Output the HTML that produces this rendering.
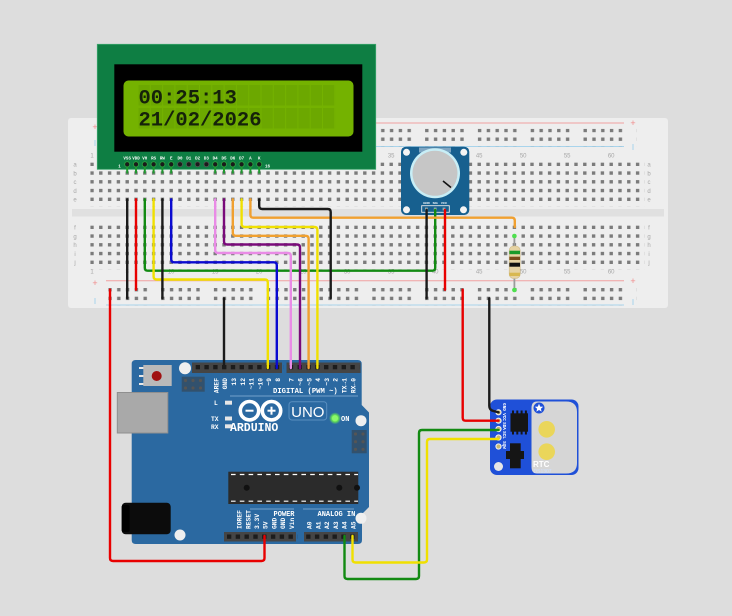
<!DOCTYPE html>
<html><head><meta charset="utf-8"><style>
html,body{margin:0;padding:0;background:#dddddd;width:732px;height:616px;overflow:hidden}
svg{display:block}
</style></head><body>
<svg width="732" height="616" viewBox="0 0 732 616" xmlns="http://www.w3.org/2000/svg" font-family="Liberation Sans, sans-serif">
<defs>
<pattern id="h1" x="90.3" y="162.6" width="8.8" height="8.75" patternUnits="userSpaceOnUse"><rect width="3.4" height="3.4" fill="#7b7b7b"/></pattern>
<pattern id="h2" x="90.3" y="225.6" width="8.8" height="8.75" patternUnits="userSpaceOnUse"><rect width="3.4" height="3.4" fill="#7b7b7b"/></pattern>
<pattern id="r1" x="108.3" y="128.8" width="52.8" height="8.7" patternUnits="userSpaceOnUse">
<rect x="0" width="3.4" height="3.4" fill="#7b7b7b"/><rect x="8.8" width="3.4" height="3.4" fill="#7b7b7b"/><rect x="17.6" width="3.4" height="3.4" fill="#7b7b7b"/><rect x="26.4" width="3.4" height="3.4" fill="#7b7b7b"/><rect x="35.2" width="3.4" height="3.4" fill="#7b7b7b"/></pattern>
<pattern id="r2" x="108.3" y="288" width="52.8" height="8.7" patternUnits="userSpaceOnUse">
<rect x="0" width="3.4" height="3.4" fill="#7b7b7b"/><rect x="8.8" width="3.4" height="3.4" fill="#7b7b7b"/><rect x="17.6" width="3.4" height="3.4" fill="#7b7b7b"/><rect x="26.4" width="3.4" height="3.4" fill="#7b7b7b"/><rect x="35.2" width="3.4" height="3.4" fill="#7b7b7b"/></pattern>
<pattern id="cell" x="138.5" y="85" width="12.3" height="23" patternUnits="userSpaceOnUse"><rect width="11.3" height="20.5" fill="#6ca800"/></pattern>
<pattern id="hp1" x="195.6" y="365" width="8.8" height="5" patternUnits="userSpaceOnUse"><rect width="4.4" height="4.4" fill="#1c1c1c"/></pattern>
<pattern id="hp2" x="288.8" y="365" width="8.8" height="5" patternUnits="userSpaceOnUse"><rect width="4.4" height="4.4" fill="#1c1c1c"/></pattern>
<pattern id="hp3" x="226.9" y="534.5" width="8.8" height="5" patternUnits="userSpaceOnUse"><rect width="4.4" height="4.4" fill="#1c1c1c"/></pattern>
<pattern id="hp4" x="306.1" y="534.5" width="8.8" height="5" patternUnits="userSpaceOnUse"><rect width="4.4" height="4.4" fill="#1c1c1c"/></pattern>
<radialGradient id="glow"><stop offset="0" stop-color="#c8ffb0"/><stop offset="0.5" stop-color="#6cf04c"/><stop offset="1" stop-color="#6cf04c" stop-opacity="0"/></radialGradient>
</defs>

<!-- Breadboard -->
<rect x="68" y="118" width="600" height="190" rx="3" fill="#eeeeee"/>
<rect x="72" y="209" width="592" height="7.5" fill="#e0e0e0"/>
<line x1="106" y1="123" x2="624" y2="123" stroke="#f0a0a0" stroke-width="1"/>
<line x1="106" y1="146.5" x2="624" y2="146.5" stroke="#a8d4ec" stroke-width="1"/>
<line x1="106" y1="280.7" x2="624" y2="280.7" stroke="#f0a0a0" stroke-width="1"/>
<line x1="106" y1="305" x2="624" y2="305" stroke="#a8d4ec" stroke-width="1"/>
<g font-size="9" fill="#f08a8a" text-anchor="middle"><text x="95" y="130">+</text><text x="633" y="126">+</text><text x="95" y="286">+</text><text x="633" y="284">+</text></g>
<g stroke="#a8d4ec" stroke-width="1"><line x1="95" y1="140" x2="95" y2="146"/><line x1="633" y1="144" x2="633" y2="150"/><line x1="95" y1="298" x2="95" y2="304"/><line x1="633" y1="299" x2="633" y2="305"/></g>
<rect x="90.3" y="162.6" width="554.4" height="43.75" fill="url(#h1)"/>
<rect x="90.3" y="225.6" width="554.4" height="43.75" fill="url(#h2)"/>
<rect x="108.3" y="128.8" width="528" height="17.4" fill="url(#r1)"/>
<rect x="108.3" y="288" width="528" height="17.4" fill="url(#r2)"/>
<g font-size="6" fill="#a6a6a6" text-anchor="middle">
<text x="92" y="157.5">1</text><text x="391.2" y="157.5">35</text><text x="479.2" y="157.5">45</text><text x="523.2" y="157.5">50</text><text x="567.2" y="157.5">55</text><text x="611.2" y="157.5">60</text>
<text x="92" y="273.5">1</text><text x="127.2" y="273.5">5</text><text x="171.2" y="273.5">10</text><text x="215.2" y="273.5">15</text><text x="259.2" y="273.5">20</text><text x="303.2" y="273.5">25</text><text x="347.2" y="273.5">30</text><text x="391.2" y="273.5">35</text><text x="435.2" y="273.5">40</text><text x="479.2" y="273.5">45</text><text x="523.2" y="273.5">50</text><text x="567.2" y="273.5">55</text><text x="611.2" y="273.5">60</text>
<text x="75" y="166.5">a</text><text x="75" y="175.3">b</text><text x="75" y="184">c</text><text x="75" y="192.8">d</text><text x="75" y="201.5">e</text>
<text x="75" y="229.5">f</text><text x="75" y="238.3">g</text><text x="75" y="247">h</text><text x="75" y="255.8">i</text><text x="75" y="264.5">j</text>
<text x="649" y="166.5">a</text><text x="649" y="175.3">b</text><text x="649" y="184">c</text><text x="649" y="192.8">d</text><text x="649" y="201.5">e</text>
<text x="649" y="229.5">f</text><text x="649" y="238.3">g</text><text x="649" y="247">h</text><text x="649" y="255.8">i</text><text x="649" y="264.5">j</text>
</g>

<!-- LCD -->
<rect x="97.3" y="44.3" width="278.4" height="125" fill="#0e7e43" stroke="#3aa56b" stroke-width="0.8"/>
<rect x="114.3" y="64.3" width="248" height="87.4" fill="#000"/>
<rect x="123.5" y="80.5" width="230" height="56" rx="5" fill="#74b200"/>
<rect x="138.5" y="85" width="196.8" height="44.5" fill="url(#cell)"/>
<g font-family="Liberation Mono, monospace" font-size="20.5" font-weight="bold" fill="#15220a">
<text x="138.5" y="103.5">00:25:13</text>
<text x="138.5" y="125.5">21/02/2026</text>
</g>
<g font-family="Liberation Mono, monospace" font-weight="bold" font-size="4.2" fill="#fff" text-anchor="middle">
<text x="127.2" y="159.5">VSS</text><text x="136" y="159.5">VDD</text><text x="144.8" y="159.5">V0</text><text x="153.6" y="159.5">RS</text><text x="162.4" y="159.5">RW</text><text x="171.2" y="159.5">E</text><text x="180" y="159.5">D0</text><text x="188.8" y="159.5">D1</text><text x="197.6" y="159.5">D2</text><text x="206.4" y="159.5">D3</text><text x="215.2" y="159.5">D4</text><text x="224" y="159.5">D5</text><text x="232.8" y="159.5">D6</text><text x="241.6" y="159.5">D7</text><text x="250.4" y="159.5">A</text><text x="259.2" y="159.5">K</text>
<text x="119.5" y="167.5">1</text><text x="267.5" y="167.5">16</text>
</g>
<g fill="#1f9a2f">
<rect x="126.2" y="164" width="2" height="9.5"/><rect x="135" y="164" width="2" height="9.5"/><rect x="143.8" y="164" width="2" height="9.5"/><rect x="152.6" y="164" width="2" height="9.5"/><rect x="161.4" y="164" width="2" height="9.5"/><rect x="170.2" y="164" width="2" height="9.5"/>
<rect x="214.2" y="164" width="2" height="9.5"/><rect x="223" y="164" width="2" height="9.5"/><rect x="231.8" y="164" width="2" height="9.5"/><rect x="240.6" y="164" width="2" height="9.5"/><rect x="249.4" y="164" width="2" height="9.5"/><rect x="258.2" y="164" width="2" height="9.5"/>
</g>
<g fill="#1a1a1a" stroke="#2aa040" stroke-width="0.9">
<circle cx="127.2" cy="164.3" r="2.6"/><circle cx="136" cy="164.3" r="2.6"/><circle cx="144.8" cy="164.3" r="2.6"/><circle cx="153.6" cy="164.3" r="2.6"/><circle cx="162.4" cy="164.3" r="2.6"/><circle cx="171.2" cy="164.3" r="2.6"/>
<circle cx="215.2" cy="164.3" r="2.6"/><circle cx="224" cy="164.3" r="2.6"/><circle cx="232.8" cy="164.3" r="2.6"/><circle cx="241.6" cy="164.3" r="2.6"/><circle cx="250.4" cy="164.3" r="2.6"/><circle cx="259.2" cy="164.3" r="2.6"/>
</g>
<g fill="#1a1a1a" stroke="#555" stroke-width="0.8">
<circle cx="180" cy="164.3" r="2.4"/><circle cx="188.8" cy="164.3" r="2.4"/><circle cx="197.6" cy="164.3" r="2.4"/><circle cx="206.4" cy="164.3" r="2.4"/>
</g>

<!-- Potentiometer module -->
<rect x="401" y="146.7" width="68.3" height="68.3" rx="5" fill="#17608f"/>
<rect x="419" y="147.5" width="32" height="5" fill="#7fa6c2"/>
<circle cx="435" cy="173.3" r="25" fill="#c8eef6"/>
<circle cx="435" cy="173.3" r="22.5" fill="#c6c6c6"/>
<line x1="443" y1="181" x2="451" y2="187.5" stroke="#111" stroke-width="1.6"/>
<g fill="#f4f4f4"><circle cx="406.5" cy="152.3" r="3.5"/><circle cx="463.8" cy="152.3" r="3.5"/><circle cx="406.5" cy="209.8" r="3.5"/><circle cx="463.5" cy="209.8" r="3.5"/></g>
<rect x="421.7" y="205.7" width="27.6" height="6.6" fill="none" stroke="#e8e8e8" stroke-width="0.9"/>
<g fill="#9aa"><rect x="425" y="207.6" width="2.8" height="2.8"/><rect x="433.8" y="207.6" width="2.8" height="2.8"/><rect x="442.6" y="207.6" width="2.8" height="2.8"/></g>
<g font-size="3" fill="#fff" text-anchor="middle" font-weight="bold"><text x="426.4" y="204">GND</text><text x="435.2" y="204">SIG</text><text x="444" y="204">VCC</text></g>

<!-- Resistor -->
<line x1="514.4" y1="236" x2="514.4" y2="290" stroke="#9a9a9a" stroke-width="1.8"/>
<rect x="509.2" y="246" width="11" height="32.5" rx="4.5" fill="#e6d3a3" stroke="#cdb886" stroke-width="0.6"/>
<rect x="509.4" y="250.7" width="10.6" height="3.5" fill="#1a9a2a"/>
<rect x="509.4" y="256.7" width="10.6" height="3.3" fill="#7a4a1a"/>
<rect x="509.4" y="262.7" width="10.6" height="4" fill="#111"/>
<rect x="509.4" y="272.7" width="10.6" height="3.3" fill="#d8b850"/>
<circle cx="514.4" cy="236" r="2.3" fill="#4ee04e"/><circle cx="514.4" cy="290" r="2.3" fill="#4ee04e"/>

<!-- Arduino -->
<path d="M135.7,360 H357.7 Q361.7,360 361.7,364 V405 L369,412.5 V507 L362,514 V540 Q362,544 358,544 H135.7 Q131.7,544 131.7,540 V364 Q131.7,360 135.7,360 Z" fill="#2b69a1"/>
<rect x="117.3" y="392.5" width="50.5" height="40.5" fill="#a9a9a9" stroke="#8f8f8f" stroke-width="1"/>
<rect x="121.7" y="502.7" width="49" height="31.6" rx="4" fill="#0c0c0c"/>
<rect x="121.7" y="505" width="8" height="27" rx="2" fill="#000"/>
<g fill="#e8e8e8"><rect x="139" y="367" width="5" height="2"/><rect x="139" y="375" width="5" height="2"/><rect x="139" y="383" width="5" height="2"/></g>
<rect x="143.3" y="365" width="28.4" height="21" fill="#b9b9b9"/>
<circle cx="156.7" cy="376" r="5" fill="#a01010"/>
<circle cx="185" cy="368.3" r="6" fill="#efefef"/>
<circle cx="180" cy="535" r="5.5" fill="#efefef"/>
<circle cx="361" cy="420.7" r="5.5" fill="#efefef"/>
<circle cx="361" cy="518.3" r="5.5" fill="#efefef"/>
<rect x="181.7" y="376.7" width="23" height="15" fill="#3a3a3a" opacity="0.5"/>
<g fill="#555"><circle cx="185.5" cy="380.5" r="1.6"/><circle cx="193" cy="380.5" r="1.6"/><circle cx="200.5" cy="380.5" r="1.6"/><circle cx="185.5" cy="388" r="1.6"/><circle cx="193" cy="388" r="1.6"/><circle cx="200.5" cy="388" r="1.6"/></g>
<rect x="351.7" y="430" width="15" height="23.3" fill="#3a3a3a" opacity="0.5"/>
<g fill="#555"><circle cx="355.5" cy="434" r="1.6"/><circle cx="363" cy="434" r="1.6"/><circle cx="355.5" cy="441.7" r="1.6"/><circle cx="363" cy="441.7" r="1.6"/><circle cx="355.5" cy="449.3" r="1.6"/><circle cx="363" cy="449.3" r="1.6"/></g>
<rect x="192" y="362.5" width="90" height="10.5" fill="#454545"/>
<rect x="195.6" y="365" width="88" height="4.4" fill="url(#hp1)"/>
<rect x="286.5" y="362.5" width="74" height="10.5" fill="#454545"/>
<rect x="288.8" y="365" width="70.4" height="4.4" fill="url(#hp2)"/>
<rect x="224" y="532" width="72" height="9.5" fill="#454545"/>
<rect x="226.9" y="534.5" width="70.4" height="4.4" fill="url(#hp3)"/>
<rect x="304" y="532" width="54" height="9.5" fill="#454545"/>
<rect x="306.1" y="534.5" width="52.8" height="4.4" fill="url(#hp4)"/>
<g font-family="Liberation Mono, monospace" font-weight="bold" font-size="6.3" fill="#fff">
<text transform="translate(216.2,378) rotate(-90)" text-anchor="end" dy="2.2">AREF</text>
<text transform="translate(225,378) rotate(-90)" text-anchor="end" dy="2.2">GND</text>
<text transform="translate(233.8,378) rotate(-90)" text-anchor="end" dy="2.2">13</text>
<text transform="translate(242.6,378) rotate(-90)" text-anchor="end" dy="2.2">12</text>
<text transform="translate(251.4,378) rotate(-90)" text-anchor="end" dy="2.2">~11</text>
<text transform="translate(260.2,378) rotate(-90)" text-anchor="end" dy="2.2">~10</text>
<text transform="translate(269,378) rotate(-90)" text-anchor="end" dy="2.2">~9</text>
<text transform="translate(277.8,378) rotate(-90)" text-anchor="end" dy="2.2">8</text>
<text transform="translate(291.5,378) rotate(-90)" text-anchor="end" dy="2.2">7</text>
<text transform="translate(300.3,378) rotate(-90)" text-anchor="end" dy="2.2">~6</text>
<text transform="translate(309.1,378) rotate(-90)" text-anchor="end" dy="2.2">~5</text>
<text transform="translate(317.9,378) rotate(-90)" text-anchor="end" dy="2.2">4</text>
<text transform="translate(326.7,378) rotate(-90)" text-anchor="end" dy="2.2">~3</text>
<text transform="translate(335.5,378) rotate(-90)" text-anchor="end" dy="2.2">2</text>
<text transform="translate(344.3,378) rotate(-90)" text-anchor="end" dy="2.2">TX→1</text>
<text transform="translate(353.1,378) rotate(-90)" text-anchor="end" dy="2.2">RX←0</text>
<text x="273" y="393" font-size="7.2">DIGITAL (PWM ~)</text>
<text transform="translate(239.3,529) rotate(-90)" dy="2.2">IOREF</text>
<text transform="translate(248.3,529) rotate(-90)" dy="2.2">RESET</text>
<text transform="translate(256.8,529) rotate(-90)" dy="2.2">3.3V</text>
<text transform="translate(265.3,529) rotate(-90)" dy="2.2">5V</text>
<text transform="translate(274.1,529) rotate(-90)" dy="2.2">GND</text>
<text transform="translate(282.9,529) rotate(-90)" dy="2.2">GND</text>
<text transform="translate(291.7,529) rotate(-90)" dy="2.2">Vin</text>
<text transform="translate(309.3,529) rotate(-90)" dy="2.2">A0</text>
<text transform="translate(318.1,529) rotate(-90)" dy="2.2">A1</text>
<text transform="translate(326.9,529) rotate(-90)" dy="2.2">A2</text>
<text transform="translate(335.7,529) rotate(-90)" dy="2.2">A3</text>
<text transform="translate(344.5,529) rotate(-90)" dy="2.2">A4</text>
<text transform="translate(353.3,529) rotate(-90)" dy="2.2">A5</text>
<text x="273.5" y="516" font-size="7">POWER</text>
<text x="317.5" y="516" font-size="7">ANALOG IN</text>
<text x="214" y="405">L</text>
<text x="211" y="421">TX</text>
<text x="211" y="429">RX</text>
<text x="341" y="421" font-size="7">ON</text>
</g>
<g stroke="#8cb4d8" stroke-width="0.7"><line x1="230" y1="396" x2="358" y2="396"/><line x1="250" y1="509" x2="294" y2="509"/><line x1="303" y1="509" x2="354" y2="509"/></g>
<g fill="#e6e6e6"><rect x="225" y="400.7" width="7" height="4"/><rect x="225" y="416.5" width="7" height="4"/><rect x="225" y="424.3" width="7" height="4"/></g>
<circle cx="335" cy="418.3" r="6" fill="url(#glow)"/>
<circle cx="335" cy="418.3" r="3" fill="#8cf86a"/>
<g fill="none" stroke="#fff" stroke-width="3.6"><circle cx="249.5" cy="410.7" r="9.2"/><circle cx="271.5" cy="410.7" r="9.2"/></g>
<g stroke="#fff" stroke-width="2"><line x1="245.5" y1="410.7" x2="253.5" y2="410.7"/><line x1="267.5" y1="410.7" x2="275.5" y2="410.7"/><line x1="271.5" y1="406.7" x2="271.5" y2="414.7"/></g>
<text x="230" y="431" font-family="Liberation Mono, monospace" font-weight="bold" font-size="11.5" fill="#fff">ARDUINO</text>
<rect x="289" y="401.7" width="37.7" height="18.3" rx="3" fill="none" stroke="#5a8fc0" stroke-width="1"/>
<text x="307.8" y="417" font-size="15" fill="#fff" text-anchor="middle">UNO</text>
<rect x="228.3" y="471.7" width="130" height="32.3" fill="#2b2b2b"/>
<line x1="231" y1="474.5" x2="358" y2="474.5" stroke="#fff" stroke-width="1.2" stroke-dasharray="4.6 4.2"/>
<line x1="231" y1="501.2" x2="358" y2="501.2" stroke="#fff" stroke-width="1.2" stroke-dasharray="4.6 4.2"/>
<circle cx="246.7" cy="487.7" r="3" fill="#111"/><circle cx="339.3" cy="487.7" r="3" fill="#111"/><circle cx="357" cy="487.7" r="3" fill="#111"/>

<!-- RTC -->
<rect x="490" y="399.5" width="88.5" height="75.5" rx="7" fill="#1f50d8"/>
<path d="M537,401.5 H566 Q577,401.5 577,412 V463 Q577,473.5 566,473.5 H537 Q531.5,473.5 531.5,467 V408 Q531.5,401.5 537,401.5 Z" fill="#d6d6d6"/>
<circle cx="546.7" cy="429.3" r="8.3" fill="#ead65a"/>
<circle cx="546.7" cy="451.7" r="8.3" fill="#ead65a"/>
<circle cx="539" cy="408" r="5.5" fill="#1f50d8"/>
<polygon points="539,403.8 540.2,406.6 543.2,406.8 540.9,408.7 541.6,411.6 539,410 536.4,411.6 537.1,408.7 534.8,406.8 537.8,406.6" fill="#fff"/>
<rect x="510.5" y="413.3" width="17.5" height="18.4" fill="#151515"/>
<g fill="#151515"><rect x="512" y="410.5" width="2" height="3"/><rect x="516.3" y="410.5" width="2" height="3"/><rect x="520.6" y="410.5" width="2" height="3"/><rect x="524.9" y="410.5" width="2" height="3"/><rect x="512" y="431.5" width="2" height="3"/><rect x="516.3" y="431.5" width="2" height="3"/><rect x="520.6" y="431.5" width="2" height="3"/><rect x="524.9" y="431.5" width="2" height="3"/></g>
<rect x="510" y="443.3" width="10.7" height="25" fill="#151515"/>
<rect x="506" y="451" width="18" height="8" fill="#151515"/>
<circle cx="498.5" cy="466.5" r="4.5" fill="#e6e6e6"/>
<g fill="#c9b872" stroke="#f4f4f4" stroke-width="1"><circle cx="498.5" cy="412.3" r="2.6"/><circle cx="498.5" cy="420.7" r="2.6"/><circle cx="498.5" cy="429" r="2.6"/><circle cx="498.5" cy="437.5" r="2.6"/><circle cx="498.5" cy="446.5" r="2.6"/></g>
<g font-family="Liberation Mono, monospace" font-weight="bold" font-size="4.3" fill="#fff" text-anchor="middle">
<text transform="translate(503,407) rotate(90)">GND</text>
<text transform="translate(503,417) rotate(90)">VCC</text>
<text transform="translate(503,426) rotate(90)">SDA</text>
<text transform="translate(503,435) rotate(90)">SCL</text>
<text transform="translate(503,445) rotate(90)">SQW</text>
</g>
<text x="533" y="467" font-size="8" font-weight="bold" fill="#fff">RTC</text>
<text x="533.5" y="473" font-size="5" fill="#cfe0ff">DS1307</text>

<!-- Wires -->
<g fill="none" stroke-width="2.4" stroke-linejoin="round" stroke-linecap="round">
<path d="M127.2,199.3 V298.3" stroke="#1b1b1b"/>
<path d="M136,199.3 V289.7" stroke="#e80000"/>
<path d="M144.8,199.3 V267.7 Q144.8,270.7 147.8,270.7 H432.2 Q435.2,270.7 435.2,267.7 V210" stroke="#128a12"/>
<path d="M153.6,199.3 V276.5 Q153.6,279.5 156.6,279.5 H264.8 Q267.8,279.5 267.8,282.5 V368" stroke="#f0e000"/>
<path d="M162.4,199.3 V298.3" stroke="#1b1b1b"/>
<path d="M171.2,199.3 V259.3 Q171.2,262.3 174.2,262.3 H273.8 Q276.8,262.3 276.8,265.3 V368" stroke="#0a0ad0"/>
<path d="M215.2,199.3 V250 Q215.2,253 218.2,253 H287.8 Q290.8,253 290.8,256 V368" stroke="#e98be6"/>
<path d="M224,199.3 V241.5 Q224,244.5 227,244.5 H297 Q300,244.5 300,247.5 V368" stroke="#7a0a7a"/>
<path d="M232.8,199.3 V232.8 Q232.8,235.8 235.8,235.8 H305.6 Q308.6,235.8 308.6,238.8 V368" stroke="#f0a030"/>
<path d="M241.6,199.3 V224 Q241.6,227 244.6,227 H314.4 Q317.4,227 317.4,230 V368" stroke="#f0e000"/>
<path d="M250.4,199.3 V214.7 Q250.4,217.7 253.4,217.7 H511.8 Q514.8,217.7 514.8,220.7 V227" stroke="#f0a030"/>
<path d="M259.2,199.3 V206 Q259.2,209 262.2,209 H327.7 Q330.7,209 330.7,212 V298.3" stroke="#1b1b1b"/>
<path d="M426.6,210 V298.3" stroke="#1b1b1b"/>
<path d="M445,210 V289.7" stroke="#e80000"/>
<path d="M462.7,289.7 V417.7 Q462.7,420.7 465.7,420.7 H498.5" stroke="#e80000"/>
<path d="M489.3,298.3 V406 Q489.3,410 493.5,411 L498.5,412.3" stroke="#1b1b1b"/>
<path d="M110,289.7 V558 Q110,561 113,561 H261.5 Q264.5,561 264.5,558 V536" stroke="#e80000"/>
<path d="M224,298.3 V368" stroke="#1b1b1b"/>
<path d="M344.5,536 V576 Q344.5,579 347.5,579 H416 Q419,579 419,576 V433 Q419,430 422,430 H498.5" stroke="#128a12"/>
<path d="M352.5,536 V559.5 Q352.5,562.5 355.5,562.5 H424 Q427,562.5 427,559.5 V442 Q427,439 430,439 H498.5" stroke="#f0e000"/>
</g>
</svg>
</body></html>
